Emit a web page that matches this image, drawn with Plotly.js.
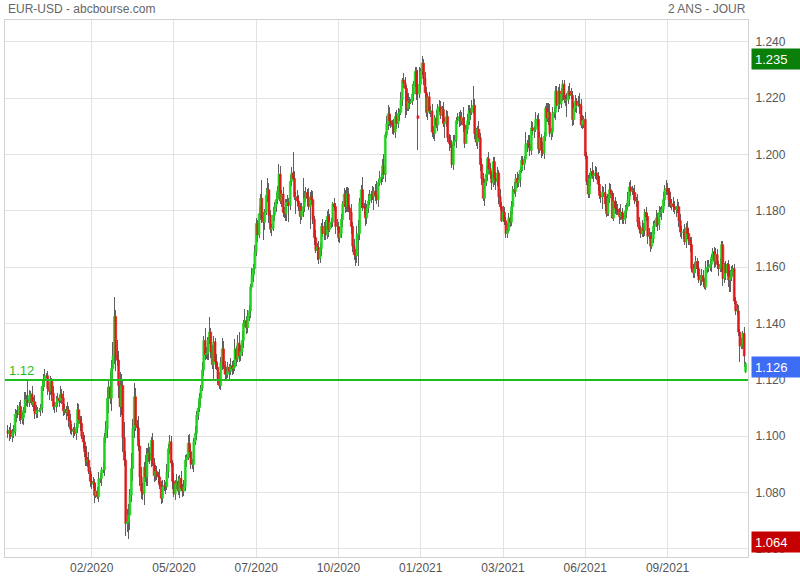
<!DOCTYPE html>
<html>
<head>
<meta charset="utf-8">
<script src="https://cdn.plot.ly/plotly-3.0.1.min.js"></script>
<style>
html,body{margin:0;padding:0;background:#fff;}
#chart{width:800px;height:580px;}
</style>
</head>
<body>
<div id="chart"></div>
<script>
// EUR-USD daily candles, 25/11/2019 -> 22/11/2021 (one row = one week)
const open = [
1.1020,1.1010,1.1020,1.1000,1.1010,
1.1017,1.1078,1.1082,1.1077,1.1105,
1.1060,1.1065,1.1093,1.1128,1.1130,
1.1120,1.1145,1.1150,1.1113,1.1122,
1.1080,1.1090,1.1090,1.1092,1.1100,
1.1177,1.1200,1.1213,1.1215,1.1170,
1.1160,1.1195,1.1152,1.1105,1.1105,
1.1120,1.1135,1.1128,1.1150,1.1136,
1.1090,1.1095,1.1083,1.1093,1.1055,
1.1025,1.1018,1.1020,1.1010,1.1030,
1.1094,1.1060,1.1045,1.1000,1.0980,
1.0945,1.0910,1.0915,1.0875,1.0840,
1.0830,1.0835,1.0790,1.0805,1.0785,
1.0848,1.0850,1.0880,1.0880,1.0995,
1.1025,1.1135,1.1175,1.1135,1.1240,
1.1285,1.1425,1.1285,1.1270,1.1180,
1.1105,1.1180,1.0995,1.0915,1.0690,
1.0695,1.0720,1.0790,1.0885,1.1030,
1.1140,1.1040,1.1030,1.0965,1.0855,
1.0805,1.0795,1.0890,1.0855,1.0935,
1.0940,1.0915,1.0985,1.0905,1.0860,
1.0875,1.0860,1.0855,1.0825,1.0780,
1.0820,1.0825,1.0820,1.0875,1.0955,
1.0980,1.0905,1.0840,1.0795,1.0830,
1.0840,1.0805,1.0850,1.0815,1.0805,
1.0820,1.0915,1.0925,1.0975,1.0945,
1.0900,1.0900,1.0980,1.1010,1.1075,
1.1100,1.1135,1.1170,1.1235,1.1340,
1.1290,1.1295,1.1340,1.1370,1.1300,
1.1255,1.1335,1.1265,1.1245,1.1205,
1.1180,1.1260,1.1310,1.1250,1.1220,
1.1220,1.1245,1.1230,1.1250,1.1240,
1.1245,1.1310,1.1275,1.1330,1.1285,
1.1300,1.1340,1.1400,1.1410,1.1385,
1.1425,1.1445,1.1530,1.1570,1.1595,
1.1655,1.1755,1.1715,1.1790,1.1845,
1.1775,1.1760,1.1795,1.1855,1.1875,
1.1785,1.1735,1.1740,1.1785,1.1815,
1.1840,1.1870,1.1930,1.1835,1.1860,
1.1795,1.1790,1.1830,1.1830,1.1820,
1.1905,1.1935,1.1915,1.1850,1.1850,
1.1835,1.1815,1.1780,1.1800,1.1815,
1.1845,1.1865,1.1845,1.1815,1.1850,
1.1840,1.1770,1.1705,1.1660,1.1670,
1.1630,1.1665,1.1745,1.1720,1.1745,
1.1715,1.1780,1.1735,1.1760,1.1760,
1.1825,1.1815,1.1745,1.1745,1.1705,
1.1720,1.1770,1.1825,1.1860,1.1815,
1.1860,1.1810,1.1795,1.1745,1.1675,
1.1645,1.1640,1.1715,1.1720,1.1830,
1.1875,1.1815,1.1810,1.1775,1.1810,
1.1835,1.1855,1.1860,1.1850,1.1870,
1.1855,1.1840,1.1900,1.1915,1.1920,
1.1960,1.1930,1.2070,1.2110,1.2145,
1.2120,1.2110,1.2100,1.2080,1.2135,
1.2110,1.2145,1.2150,1.2195,1.2265,
1.2255,1.2235,1.2165,1.2190,1.2185,
1.2190,1.2215,1.2250,1.2295,1.2138,
1.2215,1.2250,1.2295,1.2325,1.2270,
1.2220,1.2150,1.2205,1.2155,1.2155,
1.2080,1.2075,1.2130,1.2105,1.2165,
1.2170,1.2140,1.2160,1.2110,1.2115,
1.2135,1.2060,1.2040,1.2035,1.1965,
1.2045,1.2050,1.2120,1.2120,1.2135,
1.2120,1.2130,1.2105,1.2040,1.2090,
1.2120,1.2155,1.2150,1.2165,1.2175,
1.2075,1.2045,1.2090,1.2060,1.1965,
1.1915,1.1845,1.1900,1.1930,1.1985,
1.1950,1.1930,1.1900,1.1975,1.1915,
1.1905,1.1935,1.1850,1.1815,1.1765,
1.1795,1.1765,1.1720,1.1730,1.1775,
1.1760,1.1815,1.1875,1.1870,1.1915,
1.1900,1.1910,1.1945,1.1980,1.1965,
1.1985,1.2035,1.2040,1.2035,1.2015,
1.2095,1.2085,1.2090,1.2125,1.2125,
1.2020,1.2060,1.2015,1.2005,1.2065,
1.2165,1.2130,1.2150,1.2075,1.2080,
1.2145,1.2150,1.2225,1.2175,1.2225,
1.2180,1.2215,1.2250,1.2195,1.2195,
1.2195,1.2225,1.2210,1.2210,1.2125,
1.2165,1.2190,1.2175,1.2180,1.2175,
1.2105,1.2120,1.2125,1.1995,1.1905,
1.1860,1.1915,1.1940,1.1925,1.1930,
1.1935,1.1925,1.1895,1.1855,1.1850,
1.1865,1.1865,1.1825,1.1790,1.1845,
1.1875,1.1860,1.1775,1.1835,1.1810,
1.1805,1.1800,1.1780,1.1795,1.1770,
1.1770,1.1800,1.1815,1.1840,1.1885,
1.1870,1.1870,1.1865,1.1835,1.1835,
1.1760,1.1735,1.1720,1.1740,1.1730,
1.1795,1.1780,1.1710,1.1710,1.1675,
1.1700,1.1745,1.1755,1.1775,1.1750,
1.1795,1.1795,1.1805,1.1840,1.1875,
1.1880,1.1870,1.1840,1.1820,1.1825,
1.1815,1.1805,1.1805,1.1815,1.1765,
1.1725,1.1725,1.1725,1.1690,1.1740,
1.1720,1.1695,1.1680,1.1595,1.1580,
1.1595,1.1620,1.1595,1.1555,1.1555,
1.1570,1.1550,1.1530,1.1595,1.1600,
1.1600,1.1610,1.1635,1.1655,1.1620,
1.1645,1.1610,1.1595,1.1605,1.1680,
1.1560,1.1610,1.1580,1.1610,1.1555,
1.1565,1.1585,1.1595,1.1480,1.1445,
1.1445,1.1370,1.1320,1.1320,1.1365,
1.1229
];
const high = [
1.1040,1.1032,1.1048,1.1026,1.1041,
1.1098,1.1094,1.1110,1.1121,1.1129,
1.1085,1.1105,1.1156,1.1146,1.1200,
1.1165,1.1162,1.1178,1.1138,1.1146,
1.1110,1.1102,1.1100,1.1116,1.1201,
1.1220,1.1239,1.1225,1.1231,1.1194,
1.1215,1.1207,1.1180,1.1121,1.1144,
1.1155,1.1147,1.1178,1.1166,1.1160,
1.1115,1.1107,1.1121,1.1109,1.1079,
1.1045,1.1032,1.1048,1.1046,1.1118,
1.1114,1.1072,1.1073,1.1016,1.1004,
1.0965,1.0927,1.0943,1.0891,1.0864,
1.0855,1.0847,1.0833,1.0821,1.0872,
1.0870,1.0892,1.0908,1.1011,1.1053,
1.1175,1.1199,1.1231,1.1272,1.1333,
1.1495,1.1449,1.1341,1.1302,1.1228,
1.1220,1.1204,1.1051,1.0947,1.0743,
1.0760,1.0814,1.0941,1.1062,1.1188,
1.1170,1.1058,1.1072,1.0989,1.0891,
1.0835,1.0908,1.0932,1.0959,1.0976,
1.0960,1.0997,1.1013,1.0921,1.0899,
1.0895,1.0872,1.0883,1.0841,1.0844,
1.0845,1.0837,1.0903,1.0971,1.1004,
1.1000,1.0917,1.0868,1.0846,1.0864,
1.0860,1.0862,1.0878,1.0831,1.0844,
1.0935,1.0937,1.1003,1.1008,1.0969,
1.0920,1.0992,1.1038,1.1091,1.1124,
1.1155,1.1182,1.1263,1.1356,1.1384,
1.1315,1.1352,1.1422,1.1386,1.1324,
1.1355,1.1347,1.1293,1.1261,1.1229,
1.1280,1.1349,1.1338,1.1266,1.1244,
1.1265,1.1257,1.1278,1.1266,1.1269,
1.1345,1.1322,1.1358,1.1371,1.1324,
1.1375,1.1412,1.1452,1.1426,1.1449,
1.1465,1.1542,1.1598,1.1611,1.1679,
1.1775,1.1767,1.1818,1.1861,1.1909,
1.1795,1.1807,1.1883,1.1916,1.1899,
1.1805,1.1752,1.1813,1.1831,1.1864,
1.1890,1.1966,1.1958,1.1876,1.1884,
1.1815,1.1842,1.1858,1.1846,1.1929,
1.1955,1.2011,1.1943,1.1866,1.1874,
1.1855,1.1827,1.1828,1.1917,1.1869,
1.1885,1.1877,1.1882,1.1866,1.1874,
1.1872,1.1782,1.1733,1.1686,1.1694,
1.1685,1.1757,1.1773,1.1761,1.1769,
1.1800,1.1807,1.1788,1.1776,1.1831,
1.1845,1.1827,1.1773,1.1761,1.1744,
1.1790,1.1837,1.1881,1.1876,1.1884,
1.1880,1.1822,1.1823,1.1761,1.1699,
1.1665,1.1745,1.1769,1.1846,1.1891,
1.1920,1.1827,1.1838,1.1826,1.1859,
1.1875,1.1872,1.1888,1.1886,1.1894,
1.1905,1.1912,1.1943,1.1936,1.1984,
1.2003,1.2082,1.2138,1.2176,1.2169,
1.2140,1.2122,1.2128,1.2151,1.2159,
1.2165,1.2162,1.2223,1.2273,1.2289,
1.2275,1.2247,1.2218,1.2206,1.2196,
1.2250,1.2262,1.2310,1.2311,1.2300,
1.2310,1.2307,1.2349,1.2341,1.2294,
1.2240,1.2217,1.2223,1.2171,1.2179,
1.2100,1.2142,1.2158,1.2181,1.2194,
1.2190,1.2172,1.2188,1.2131,1.2159,
1.2155,1.2072,1.2068,1.2051,1.2069,
1.2070,1.2132,1.2148,1.2151,1.2159,
1.2150,1.2169,1.2133,1.2106,1.2144,
1.2175,1.2167,1.2193,1.2243,1.2199,
1.2095,1.2102,1.2118,1.2076,1.1989,
1.1935,1.1912,1.1958,1.1990,1.2009,
1.1970,1.1942,1.1990,1.1991,1.1939,
1.1955,1.1947,1.1878,1.1831,1.1819,
1.1815,1.1777,1.1758,1.1791,1.1799,
1.1835,1.1887,1.1903,1.1931,1.1939,
1.1930,1.1957,1.1995,1.1996,1.1994,
1.2079,1.2052,1.2068,1.2070,1.2119,
1.2115,1.2102,1.2150,1.2141,1.2149,
1.2080,1.2072,1.2043,1.2081,1.2172,
1.2185,1.2182,1.2178,1.2096,1.2169,
1.2170,1.2245,1.2245,1.2241,1.2249,
1.2235,1.2265,1.2266,1.2211,1.2219,
1.2245,1.2254,1.2238,1.2226,1.2184,
1.2210,1.2202,1.2208,1.2218,1.2199,
1.2140,1.2137,1.2153,1.2011,1.1929,
1.1935,1.1952,1.1974,1.1946,1.1959,
1.1955,1.1937,1.1923,1.1871,1.1889,
1.1885,1.1895,1.1853,1.1861,1.1899,
1.1895,1.1872,1.1863,1.1851,1.1834,
1.1825,1.1812,1.1823,1.1811,1.1794,
1.1820,1.1827,1.1868,1.1901,1.1909,
1.1890,1.1882,1.1893,1.1851,1.1859,
1.1780,1.1747,1.1768,1.1756,1.1808,
1.1815,1.1792,1.1738,1.1726,1.1724,
1.1765,1.1767,1.1803,1.1791,1.1819,
1.1815,1.1817,1.1868,1.1891,1.1909,
1.1900,1.1882,1.1868,1.1841,1.1849,
1.1835,1.1817,1.1843,1.1831,1.1789,
1.1745,1.1737,1.1753,1.1756,1.1764,
1.1740,1.1707,1.1708,1.1611,1.1619,
1.1640,1.1632,1.1623,1.1571,1.1594,
1.1590,1.1562,1.1623,1.1624,1.1624,
1.1630,1.1647,1.1669,1.1671,1.1669,
1.1665,1.1622,1.1633,1.1692,1.1692,
1.1616,1.1622,1.1616,1.1626,1.1589,
1.1605,1.1607,1.1610,1.1496,1.1469,
1.1465,1.1382,1.1348,1.1374,1.1389,
1.1264
];
const low = [
1.0995,1.0984,1.0989,1.0978,1.0992,
1.1002,1.1052,1.1066,1.1055,1.1042,
1.1045,1.1039,1.1082,1.1106,1.1102,
1.1105,1.1119,1.1102,1.1091,1.1062,
1.1065,1.1064,1.1085,1.1070,1.1082,
1.1162,1.1174,1.1205,1.1148,1.1128,
1.1145,1.1126,1.1094,1.1083,1.1087,
1.1105,1.1102,1.1117,1.1114,1.1072,
1.1075,1.1057,1.1072,1.1033,1.1007,
1.1003,1.0992,1.0999,1.0988,1.1012,
1.1045,1.1019,1.0989,1.0958,1.0927,
1.0895,1.0889,1.0864,1.0818,1.0812,
1.0815,1.0764,1.0779,1.0778,1.0767,
1.0833,1.0824,1.0869,1.0858,1.0977,
1.0995,1.1083,1.1113,1.1091,1.1204,
1.1255,1.1233,1.1248,1.1136,1.1069,
1.1075,1.0943,1.0893,1.0646,1.0659,
1.0636,1.0668,1.0768,1.0841,1.0994,
1.1018,1.0991,1.0949,1.0822,1.0778,
1.0773,1.0756,1.0839,1.0822,1.0908,
1.0900,1.0889,1.0894,1.0838,1.0842,
1.0845,1.0829,1.0814,1.0758,1.0762,
1.0805,1.0794,1.0809,1.0853,1.0937,
1.0890,1.0814,1.0784,1.0773,1.0812,
1.0790,1.0779,1.0804,1.0783,1.0787,
1.0805,1.0889,1.0914,1.0923,1.0882,
1.0885,1.0874,1.0969,1.0988,1.1057,
1.1085,1.1109,1.1159,1.1213,1.1272,
1.1275,1.1269,1.1329,1.1278,1.1237,
1.1200,1.1239,1.1234,1.1183,1.1168,
1.1165,1.1234,1.1239,1.1198,1.1202,
1.1205,1.1204,1.1219,1.1218,1.1222,
1.1230,1.1249,1.1264,1.1263,1.1267,
1.1285,1.1314,1.1389,1.1363,1.1367,
1.1410,1.1419,1.1519,1.1548,1.1577,
1.1640,1.1689,1.1704,1.1768,1.1757,
1.1696,1.1734,1.1784,1.1833,1.1756,
1.1720,1.1711,1.1729,1.1763,1.1797,
1.1825,1.1844,1.1824,1.1813,1.1777,
1.1775,1.1764,1.1819,1.1762,1.1802,
1.1890,1.1909,1.1839,1.1789,1.1817,
1.1800,1.1754,1.1769,1.1778,1.1797,
1.1830,1.1819,1.1804,1.1737,1.1822,
1.1755,1.1679,1.1649,1.1627,1.1612,
1.1615,1.1639,1.1709,1.1698,1.1697,
1.1700,1.1709,1.1724,1.1738,1.1742,
1.1800,1.1719,1.1734,1.1689,1.1687,
1.1705,1.1744,1.1814,1.1793,1.1797,
1.1795,1.1769,1.1718,1.1653,1.1627,
1.1603,1.1614,1.1603,1.1698,1.1812,
1.1800,1.1784,1.1746,1.1753,1.1792,
1.1820,1.1829,1.1839,1.1802,1.1837,
1.1825,1.1814,1.1889,1.1893,1.1902,
1.1915,1.1904,1.2059,1.2088,1.2102,
1.2095,1.2074,1.2069,1.2058,1.2092,
1.2095,1.2119,1.2139,1.2173,1.2237,
1.2129,1.2139,1.2154,1.2163,1.2180,
1.2175,1.2189,1.2239,1.2193,1.2016,
1.2200,1.2224,1.2284,1.2248,1.2202,
1.2132,1.2124,1.2144,1.2133,1.2062,
1.2054,1.2049,1.2094,1.2083,1.2152,
1.2125,1.2114,1.2099,1.2058,1.2097,
1.2045,1.2014,1.2024,1.1952,1.1947,
1.2030,1.2024,1.2109,1.2098,1.2102,
1.2105,1.2079,1.2023,1.2068,1.2072,
1.2105,1.2124,1.2139,1.2143,1.2057,
1.2030,1.2019,1.2049,1.1943,1.1893,
1.1835,1.1819,1.1889,1.1908,1.1932,
1.1915,1.1874,1.1884,1.1893,1.1874,
1.1890,1.1824,1.1804,1.1762,1.1760,
1.1750,1.1704,1.1704,1.1720,1.1742,
1.1745,1.1789,1.1859,1.1848,1.1882,
1.1885,1.1884,1.1934,1.1943,1.1947,
1.1970,1.2009,1.2024,1.1996,1.1997,
1.2070,1.2059,1.2079,1.2103,1.2002,
1.2005,1.1989,1.1994,1.1983,1.2047,
1.2115,1.2104,1.2064,1.2052,1.2062,
1.2130,1.2124,1.2164,1.2153,1.2162,
1.2165,1.2189,1.2184,1.2173,1.2134,
1.2180,1.2199,1.2199,1.2103,1.2104,
1.2150,1.2149,1.2169,1.2145,1.2093,
1.2090,1.2094,1.1984,1.1891,1.1847,
1.1845,1.1889,1.1914,1.1903,1.1912,
1.1910,1.1869,1.1844,1.1828,1.1807,
1.1850,1.1799,1.1779,1.1782,1.1827,
1.1845,1.1772,1.1764,1.1788,1.1787,
1.1785,1.1754,1.1769,1.1752,1.1752,
1.1755,1.1774,1.1804,1.1818,1.1852,
1.1855,1.1839,1.1824,1.1813,1.1742,
1.1720,1.1705,1.1709,1.1708,1.1712,
1.1765,1.1684,1.1699,1.1653,1.1664,
1.1685,1.1719,1.1744,1.1728,1.1732,
1.1780,1.1769,1.1794,1.1818,1.1857,
1.1855,1.1814,1.1809,1.1803,1.1797,
1.1790,1.1779,1.1794,1.1743,1.1707,
1.1700,1.1699,1.1679,1.1668,1.1702,
1.1680,1.1654,1.1584,1.1562,1.1562,
1.1580,1.1569,1.1544,1.1533,1.1537,
1.1535,1.1524,1.1519,1.1578,1.1582,
1.1585,1.1584,1.1624,1.1598,1.1602,
1.1595,1.1569,1.1584,1.1583,1.1535,
1.1545,1.1554,1.1569,1.1529,1.1513,
1.1550,1.1569,1.1469,1.1432,1.1432,
1.1355,1.1264,1.1309,1.1311,1.1247,
1.1224
];
const close = [
1.1010,1.1020,1.1000,1.1010,1.1017,
1.1078,1.1082,1.1077,1.1105,1.1060,
1.1065,1.1093,1.1128,1.1130,1.1120,
1.1145,1.1150,1.1113,1.1122,1.1080,
1.1090,1.1090,1.1092,1.1100,1.1177,
1.1200,1.1213,1.1215,1.1170,1.1160,
1.1195,1.1152,1.1105,1.1105,1.1120,
1.1135,1.1128,1.1150,1.1136,1.1090,
1.1095,1.1083,1.1093,1.1055,1.1025,
1.1018,1.1020,1.1010,1.1030,1.1094,
1.1060,1.1045,1.1000,1.0980,1.0945,
1.0910,1.0915,1.0875,1.0840,1.0830,
1.0835,1.0790,1.0805,1.0785,1.0848,
1.0850,1.0880,1.0880,1.0995,1.1025,
1.1135,1.1175,1.1135,1.1240,1.1285,
1.1425,1.1285,1.1270,1.1180,1.1105,
1.1180,1.0995,1.0915,1.0690,1.0695,
1.0720,1.0790,1.0885,1.1030,1.1140,
1.1040,1.1030,1.0965,1.0855,1.0805,
1.0795,1.0890,1.0855,1.0935,1.0940,
1.0915,1.0985,1.0905,1.0860,1.0875,
1.0860,1.0855,1.0825,1.0780,1.0820,
1.0825,1.0820,1.0875,1.0955,1.0980,
1.0905,1.0840,1.0795,1.0830,1.0840,
1.0805,1.0850,1.0815,1.0805,1.0820,
1.0915,1.0925,1.0975,1.0945,1.0900,
1.0900,1.0980,1.1010,1.1075,1.1100,
1.1135,1.1170,1.1235,1.1340,1.1290,
1.1295,1.1340,1.1370,1.1300,1.1255,
1.1335,1.1265,1.1245,1.1205,1.1180,
1.1260,1.1310,1.1250,1.1220,1.1220,
1.1245,1.1230,1.1250,1.1240,1.1245,
1.1310,1.1275,1.1330,1.1285,1.1300,
1.1340,1.1400,1.1410,1.1385,1.1425,
1.1445,1.1530,1.1570,1.1595,1.1655,
1.1755,1.1715,1.1790,1.1845,1.1775,
1.1760,1.1795,1.1855,1.1875,1.1785,
1.1735,1.1740,1.1785,1.1815,1.1840,
1.1870,1.1930,1.1835,1.1860,1.1795,
1.1790,1.1830,1.1830,1.1820,1.1905,
1.1935,1.1915,1.1850,1.1850,1.1835,
1.1815,1.1780,1.1800,1.1815,1.1845,
1.1865,1.1845,1.1815,1.1850,1.1840,
1.1770,1.1705,1.1660,1.1670,1.1630,
1.1665,1.1745,1.1720,1.1745,1.1715,
1.1780,1.1735,1.1760,1.1760,1.1825,
1.1815,1.1745,1.1745,1.1705,1.1720,
1.1770,1.1825,1.1860,1.1815,1.1860,
1.1810,1.1795,1.1745,1.1675,1.1645,
1.1640,1.1715,1.1720,1.1830,1.1875,
1.1815,1.1810,1.1775,1.1810,1.1835,
1.1855,1.1860,1.1850,1.1870,1.1855,
1.1840,1.1900,1.1915,1.1920,1.1960,
1.1930,1.2070,1.2110,1.2145,1.2120,
1.2110,1.2100,1.2080,1.2135,1.2110,
1.2145,1.2150,1.2195,1.2265,1.2255,
1.2235,1.2165,1.2190,1.2185,1.2190,
1.2215,1.2250,1.2295,1.2215,1.2128,
1.2250,1.2295,1.2325,1.2270,1.2220,
1.2150,1.2205,1.2155,1.2155,1.2080,
1.2075,1.2130,1.2105,1.2165,1.2170,
1.2140,1.2160,1.2110,1.2115,1.2135,
1.2060,1.2040,1.2035,1.1965,1.2045,
1.2050,1.2120,1.2120,1.2135,1.2120,
1.2130,1.2105,1.2040,1.2090,1.2120,
1.2155,1.2150,1.2165,1.2175,1.2075,
1.2045,1.2090,1.2060,1.1965,1.1915,
1.1845,1.1900,1.1930,1.1985,1.1950,
1.1930,1.1900,1.1975,1.1915,1.1905,
1.1935,1.1850,1.1815,1.1765,1.1795,
1.1765,1.1720,1.1730,1.1775,1.1760,
1.1815,1.1875,1.1870,1.1915,1.1900,
1.1910,1.1945,1.1980,1.1965,1.1985,
1.2035,1.2040,1.2035,1.2015,1.2095,
1.2085,1.2090,1.2125,1.2125,1.2020,
1.2060,1.2015,1.2005,1.2065,1.2165,
1.2130,1.2150,1.2075,1.2080,1.2145,
1.2150,1.2225,1.2175,1.2225,1.2180,
1.2215,1.2250,1.2195,1.2195,1.2195,
1.2225,1.2210,1.2210,1.2125,1.2165,
1.2190,1.2175,1.2180,1.2175,1.2105,
1.2120,1.2125,1.1995,1.1905,1.1860,
1.1915,1.1940,1.1925,1.1930,1.1935,
1.1925,1.1895,1.1855,1.1850,1.1865,
1.1865,1.1825,1.1790,1.1845,1.1875,
1.1860,1.1775,1.1835,1.1810,1.1805,
1.1800,1.1780,1.1795,1.1770,1.1770,
1.1800,1.1815,1.1840,1.1885,1.1870,
1.1870,1.1865,1.1835,1.1835,1.1760,
1.1735,1.1720,1.1740,1.1730,1.1795,
1.1780,1.1710,1.1710,1.1675,1.1700,
1.1745,1.1755,1.1775,1.1750,1.1795,
1.1795,1.1805,1.1840,1.1875,1.1880,
1.1870,1.1840,1.1820,1.1825,1.1815,
1.1805,1.1805,1.1815,1.1765,1.1725,
1.1725,1.1725,1.1690,1.1740,1.1720,
1.1695,1.1680,1.1595,1.1580,1.1595,
1.1620,1.1595,1.1555,1.1555,1.1570,
1.1550,1.1530,1.1595,1.1600,1.1600,
1.1610,1.1635,1.1655,1.1620,1.1645,
1.1610,1.1595,1.1605,1.1680,1.1560,
1.1610,1.1580,1.1610,1.1555,1.1565,
1.1585,1.1595,1.1480,1.1445,1.1445,
1.1370,1.1320,1.1320,1.1365,1.1285,
1.1258
];

// x-axis labels (candle index of each labelled session)
const tickIndex  = [59, 117, 175, 233, 291, 349, 407, 465];
const tickLabels = ['02/2020','05/2020','07/2020','10/2020','01/2021','03/2021','06/2021','09/2021'];
const yTicks = [1.06, 1.08, 1.10, 1.12, 1.14, 1.16, 1.18, 1.20, 1.22, 1.24];
const refLevel = 1.12;
const title = 'EUR-USD - abcbourse.com';
const periodLabel = '2 ANS - JOUR';

const UP = '#1cd41c', DOWN = '#df1a1a', WICK = '#606060';

const n = close.length;
const xs = close.map((_, i) => i);
const wickLen = high.map((h, i) => h - low[i]);
const bodyBase = open.map((o, i) => Math.min(o, close[i]));
const bodyLen = open.map((o, i) => Math.abs(close[i] - o));
const bodyCol = open.map((o, i) => close[i] >= o ? UP : DOWN);

const maxHigh = Math.max(...high);
const minLow = Math.min(...low);
const lastClose = close[n - 1];

const font = 'Liberation Sans, Arial, sans-serif';

const traces = [
  { type: 'bar', x: xs, base: low, y: wickLen, width: 0.72,
    marker: { color: WICK, line: { width: 0 } }, hoverinfo: 'skip' },
  { type: 'bar', x: xs, base: bodyBase, y: bodyLen, width: 1.25,
    marker: { color: bodyCol, line: { color: bodyCol, width: 0.7 } }, hoverinfo: 'skip' }
];

function priceBox(v, bg) {
  return { xref: 'paper', x: 1, xanchor: 'left', xshift: 3,
    yref: 'y', y: v, yanchor: 'middle', yshift: -3,
    text: v.toFixed(3), showarrow: false, bgcolor: bg,
    width: 43, height: 14, borderpad: 3, align: 'left',
    font: { family: font, size: 13, color: '#ffffff' } };
}

const layout = {
  width: 800, height: 580,
  margin: { l: 5, r: 52, t: 20, b: 23 },
  paper_bgcolor: '#ffffff', plot_bgcolor: '#ffffff',
  showlegend: false, barmode: 'overlay', bargap: 0,
  font: { family: font, size: 12, color: '#555' },
  xaxis: { range: [-2.1, n - 1 + 1.7], tickvals: tickIndex, ticktext: tickLabels,
    showgrid: true, gridcolor: '#e2e2e2', gridwidth: 1, zeroline: false,
    showline: true, mirror: true, linecolor: '#d2d2d2', linewidth: 1, ticks: '',
    tickfont: { family: font, size: 12, color: '#555' }, fixedrange: true },
  yaxis: { side: 'right', range: [1.0571, 1.2478], tickvals: yTicks, tickformat: '.3f',
    showgrid: true, gridcolor: '#e2e2e2', gridwidth: 1, zeroline: false,
    showline: true, mirror: true, linecolor: '#d2d2d2', linewidth: 1, ticks: '',
    ticklabelstandoff: 4,
    tickfont: { family: font, size: 12, color: '#555' }, fixedrange: true },
  shapes: [{ type: 'line', xref: 'paper', x0: 0, x1: 1, yref: 'y', y0: refLevel, y1: refLevel,
    line: { color: '#1cbf1c', width: 2 } }],
  annotations: [
    { xref: 'paper', x: 0, xanchor: 'left', xshift: 1, yref: 'paper', y: 1, yanchor: 'middle', yshift: 11,
      text: title, showarrow: false, font: { family: font, size: 12, color: '#666' } },
    { xref: 'paper', x: 1, xanchor: 'right', xshift: 0, yref: 'paper', y: 1, yanchor: 'middle', yshift: 11,
      text: periodLabel, showarrow: false, font: { family: font, size: 12, color: '#666' } },
    { xref: 'paper', x: 0, xanchor: 'left', xshift: 2, yref: 'y', y: refLevel, yanchor: 'bottom', yshift: 0,
      text: refLevel.toFixed(2), showarrow: false, font: { family: font, size: 13, color: '#1cbf1c' } },
    priceBox(maxHigh, '#0a7f0a'),
    priceBox(lastClose, '#3d6cf5'),
    priceBox(minLow, '#c40000')
  ]
};

Plotly.newPlot('chart', traces, layout, { displayModeBar: false, staticPlot: true });
</script>
</body>
</html>
